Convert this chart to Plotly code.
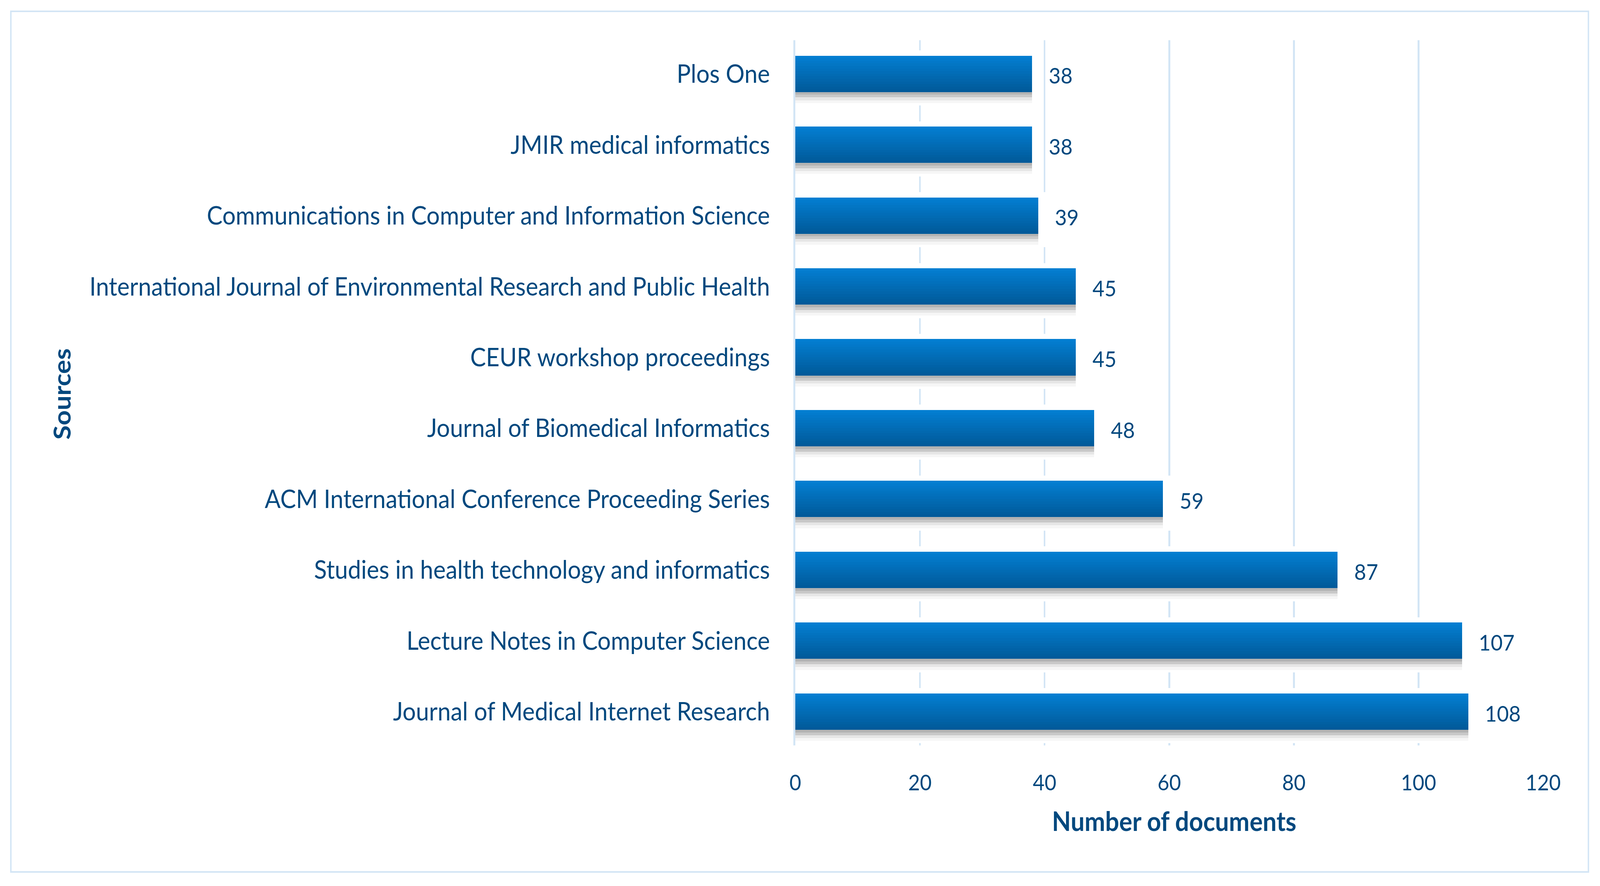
import plotly.graph_objects as go

# ---------------- data ----------------
sources = [
    "Journal of Medical Internet Research",
    "Lecture Notes in Computer Science",
    "Studies in health technology and informatics",
    "ACM International Conference Proceeding Series",
    "Journal of Biomedical Informatics",
    "CEUR workshop proceedings",
    "International Journal of Environmental Research and Public Health",
    "Communications in Computer and Information Science",
    "JMIR medical informatics",
    "Plos One",
]
documents = [108, 107, 87, 59, 48, 45, 45, 39, 38, 38]
x_ticks = [0, 20, 40, 60, 80, 100, 120]
x_title = "Number of documents"
y_title = "Sources"

# ---------------- styles ----------------
FONT = "Lato"
TXT = "#01487E"
GRID = "#D3E5F5"
BAR_W = 0.51
PLOT_L, PLOT_R, PLOT_T, PLOT_B = 2197, 4263, 103, 1909
W, H = 4420, 2269
pw, ph = PLOT_R - PLOT_L, PLOT_B - PLOT_T


def px_x(p):
    return (p - PLOT_L) / pw


def px_y(p):
    return (PLOT_B - p) / ph


fig = go.Figure()

# white "halo" that breaks the gridlines around each bar (as in the original)
fig.add_trace(go.Bar(
    y=sources, x=[d + 1.5 for d in documents], orientation="h",
    width=0.777, offset=-0.445,
    marker=dict(color="white", line=dict(width=0)),
    hoverinfo="skip", showlegend=False,
))

# soft drop shadow below bars
shadow_cols = ["#B3B3B3", "#C8C8C8", "#E6E6E6", "#F6F6F6"]
sh = 0.039
for i, c in enumerate(shadow_cols):
    fig.add_trace(go.Bar(
        y=sources, x=documents, orientation="h",
        width=sh * 1.05, offset=-BAR_W / 2 - (i + 1) * sh,
        marker=dict(color=c, line=dict(width=0)),
        hoverinfo="skip", showlegend=False,
    ))

# vertical gradient fill of bars (top light -> bottom dark)
top = (3, 126, 209)
bot = (1, 90, 154)
n = 14
h = BAR_W / n
for i in range(n):
    t = i / (n - 1)
    col = "rgb(%d,%d,%d)" % tuple(round(top[k] + (bot[k] - top[k]) * t) for k in range(3))
    fig.add_trace(go.Bar(
        y=sources, x=documents, orientation="h",
        width=h * 1.08, offset=BAR_W / 2 - (i + 1) * h,
        marker=dict(color=col, line=dict(width=0)),
        hoverinfo="skip" if i else "x+y", showlegend=False,
    ))

# value labels
for s, d in zip(sources, documents):
    fig.add_annotation(
        x=d, y=s, text=str(d), showarrow=False,
        xanchor="left", yanchor="middle", xshift=44, yshift=-3,
        font=dict(family=FONT, size=57, color=TXT),
    )

# axis titles
fig.add_annotation(
    x=px_x(169), y=px_y(1009), xref="paper", yref="paper",
    text="<b>%s</b>" % y_title, textangle=-90, showarrow=False,
    xanchor="center", yanchor="middle",
    font=dict(family=FONT, size=67, color=TXT),
)
fig.add_annotation(
    x=px_x(3243), y=px_y(2101), xref="paper", yref="paper",
    text="<b>%s</b>" % x_title, showarrow=False,
    xanchor="center", yanchor="middle",
    font=dict(family=FONT, size=68, color=TXT),
)

# outer frame
fig.add_shape(
    type="rect", xref="paper", yref="paper",
    x0=px_x(30), x1=px_x(4388), y0=px_y(2233), y1=px_y(29),
    line=dict(color=GRID, width=4), fillcolor="rgba(0,0,0,0)", layer="below",
)

fig.update_layout(
    width=W, height=H, autosize=False,
    margin=dict(l=PLOT_L, r=W - PLOT_R, t=PLOT_T, b=H - PLOT_B, pad=0),
    paper_bgcolor="white", plot_bgcolor="white",
    barmode="overlay", bargap=0,
    showlegend=False,
    xaxis=dict(
        range=[0, 120], tickvals=x_ticks, ticktext=[str(v) for v in x_ticks],
        showgrid=True, gridcolor=GRID, gridwidth=5,
        zeroline=False, showline=False, ticks="",
        ticklabelstandoff=58,
        tickfont=dict(family=FONT, size=56, color=TXT),
    ),
    yaxis=dict(
        type="category", categoryorder="array", categoryarray=sources,
        range=[-0.476, 9.476],
        showgrid=False, zeroline=False,
        showline=True, linecolor=GRID, linewidth=5, layer="above traces",
        ticks="", ticklabelstandoff=52,
        tickfont=dict(family=FONT, size=65, color=TXT),
    ),
)

# fit the 4420x2269 figure exactly into the browser viewport
fit_js = """
(function(){
  var gd = document.getElementById('{plot_id}');
  var W = %d, H = %d;
  var vw = window.innerWidth || document.documentElement.clientWidth || W;
  var vh = window.innerHeight || document.documentElement.clientHeight || H;
  var sx = vw / W, sy = vh / H;
  var de = document.documentElement, b = document.body;
  de.style.margin = '0'; de.style.padding = '0'; de.style.overflow = 'hidden';
  b.style.margin = '0'; b.style.padding = '0'; b.style.overflow = 'hidden';
  b.style.background = 'white';
  b.style.width = vw + 'px'; b.style.height = vh + 'px';
  var wrap = gd.parentElement;
  wrap.style.width = vw + 'px'; wrap.style.height = vh + 'px'; wrap.style.overflow = 'hidden';
  gd.style.transformOrigin = '0 0';
  gd.style.transform = 'scale(' + sx + ',' + sy + ')';
})();
""" % (W, H)

fig.write_html("out.html", post_script=fit_js, config={"displayModeBar": False})
